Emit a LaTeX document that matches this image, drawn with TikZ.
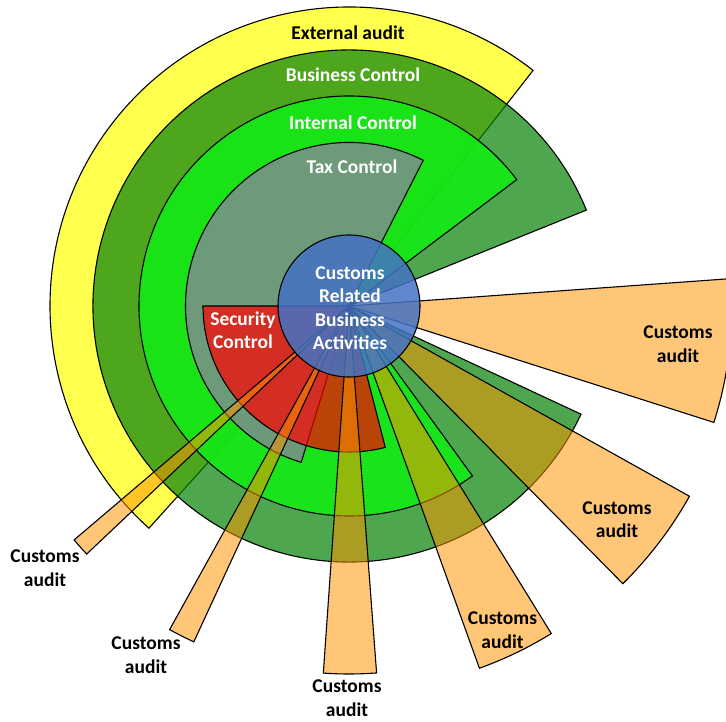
\documentclass[tikz,border=0pt]{standalone}
\usepackage{fontspec}
\setmainfont{Carlito}
\definecolor{yel}{RGB}{255,255,77}
\definecolor{bizg}{RGB}{10,132,10}
\definecolor{intg}{RGB}{20,234,22}
\definecolor{taxc}{RGB}{131,136,146}
\definecolor{secr}{RGB}{255,0,0}
\definecolor{cust}{RGB}{255,147,0}
\definecolor{cblue}{RGB}{68,114,196}
\newcommand\sector[4]{\filldraw[#1] (C) -- ++(#2:#4) arc[start angle=#2,end angle=#3,radius=#4] -- cycle;}
\begin{document}
\begin{tikzpicture}[x=1pt,y=1pt,
  wl/.style={draw=black,line width=1.1pt},
  yellowpie/.style={wl,fill=yel},
  bizpie/.style={wl,fill=bizg,fill opacity=0.72},
  intpie/.style={wl,fill=intg,fill opacity=0.9},
  taxpie/.style={wl,fill=taxc,fill opacity=0.8},
  secpie/.style={wl,fill=secr,fill opacity=0.7},
  custpie/.style={wl,fill=cust,fill opacity=0.53},
  lbl/.style={font=\bfseries\fontsize{19.5}{23.5}\selectfont,align=center,inner sep=0pt},
  wlabel/.style={lbl,text=white},
  blabel/.style={lbl,text=black}]
\useasboundingbox (0,0) rectangle (726,721);
\clip (0,0) rectangle (726,721);
\coordinate (C) at (349,415);
% layers
\sector{yellowpie}{52}{228}{299}
\sector{bizpie}{22}{335}{256}
\sector{intpie}{37}{306}{210}
\sector{taxpie}{63}{253}{163.5}
\sector{secpie}{180}{284.4}{146}
% customs audit wedges
\sector{custpie}{-17.7}{4.1}{383}
\sector{custpie}{-45.4}{-29.2}{390}
\sector{custpie}{-70.2}{-58.3}{385}
\sector{custpie}{-94}{-85.7}{368}
\sector{custpie}{241}{245.2}{370}
\sector{custpie}{220.4}{223.4}{361}
% central circle
\node[circle,minimum size=142pt,inner sep=0pt,draw=black,line width=1.1pt,fill=cblue,fill opacity=0.85] (core) at (C) {};
% labels
\node[blabel] (ext) at (348,688) {External audit};
\node[wlabel] (biz) at (353,646) {Business Control};
\node[wlabel] (int) at (353,598) {Internal Control};
\node[wlabel] (tax) at (352,554) {Tax Control};
\node[wlabel] (sec) at (243,391) {Security\\Control};
\node[wlabel] (crba) at (350,413) {Customs\\Related\\Business\\Activities};
\node[blabel] (ca1) at (678,377) {Customs\\audit};
\node[blabel] (ca2) at (617,201.5) {Customs\\audit};
\node[blabel] (ca3) at (502.5,91) {Customs\\audit};
\node[blabel] (ca4) at (347,23) {Customs\\audit};
\node[blabel] (ca5) at (146,66) {Customs\\audit};
\node[blabel] (ca6) at (45,153) {Customs\\audit};
\end{tikzpicture}
\end{document}
